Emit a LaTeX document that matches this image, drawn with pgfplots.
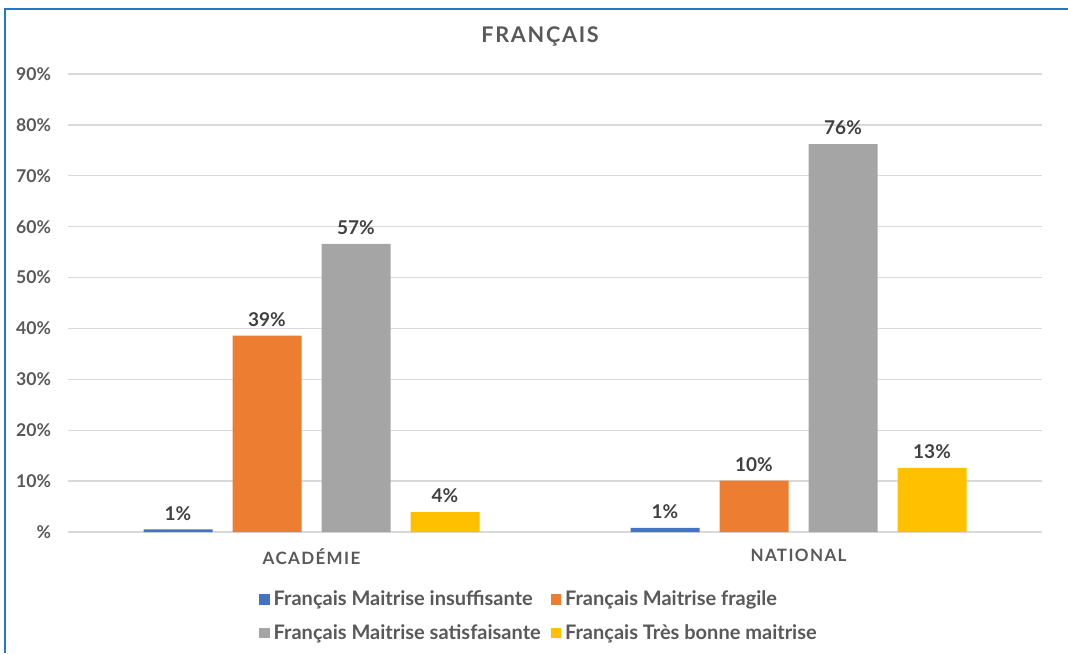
\documentclass[border=0pt]{standalone}
\usepackage{pgfplots}
\pgfplotsset{compat=1.18}
\usepackage{fontspec}
\setmainfont{Lato}
\newfontfamily\spaced[LetterSpace=8]{Lato}
\definecolor{cblue}{HTML}{4472C4}
\definecolor{corange}{HTML}{ED7D31}
\definecolor{cgray}{HTML}{A5A5A5}
\definecolor{cyellow}{HTML}{FFC000}
\definecolor{txt}{HTML}{595959}
\definecolor{lbl}{HTML}{404040}
\definecolor{framec}{HTML}{1F7BC8}
\definecolor{gridc}{HTML}{D9D9D9}
\begin{document}
\begin{tikzpicture}
\useasboundingbox (0,0) rectangle (534pt,326.5pt);
\draw[framec, line width=1.3pt] (2.5pt,0) -- (2.5pt,322pt) -- (534pt,322pt);
\node[font=\fontsize{10.8}{12}\selectfont\bfseries\spaced, text=txt] at (270pt,308pt) {FRANÇAIS};
\begin{axis}[
  at={(34pt,60.5pt)}, anchor=south west,
  scale only axis, width=487pt, height=229pt,
  xmin=-0.5, xmax=1.5, ymin=0, ymax=90,
  ybar=10pt, bar width=34.5pt,
  axis line style={draw=none},
  major tick length=0pt,
  ymajorgrids, grid style={gridc, line width=0.7pt},
  ytick={0,10,...,90},
  yticklabels={\%,10\%,20\%,30\%,40\%,50\%,60\%,70\%,80\%,90\%},
  yticklabel style={font=\fontsize{8.8}{10}\selectfont\bfseries, text=txt, xshift=-5pt},
  xtick={0,1},
  xticklabels={ACADÉMIE,NATIONAL},
  xticklabel style={font=\fontsize{8.5}{10}\selectfont\bfseries\spaced, text=txt, yshift=-5pt},
  nodes near coords={\pgfmathprintnumber[fixed,precision=0,assume math mode=true]{\pgfplotspointmeta}\%},
  every node near coord/.append style={font=\fontsize{9.5}{11}\selectfont\bfseries, text=lbl, yshift=1pt},
  legend columns=2,
  legend cell align=left,
  legend style={at={(0.4846,-0.184)}, anchor=center, draw=none,
    font=\fontsize{10}{11}\selectfont\bfseries, text=txt,
    /tikz/every even column/.append style={column sep=3pt},
    row sep=4pt},
  legend image code/.code={\fill[#1] (0pt,-2.6pt) rectangle (5.2pt,2.6pt);},
]
\addplot[fill=cblue, draw=none] coordinates {(0,0.5) (1,0.8)};
\addplot[fill=corange, draw=none] coordinates {(0,38.6) (1,10.1)};
\addplot[fill=cgray, draw=none] coordinates {(0,56.6) (1,76.2)};
\addplot[fill=cyellow, draw=none] coordinates {(0,3.9) (1,12.6)};
\legend{Français Maitrise insuffisante, Français Maitrise fragile, Français Maitrise satisfaisante, Français Très bonne maitrise}
\end{axis}
\end{tikzpicture}
\end{document}
